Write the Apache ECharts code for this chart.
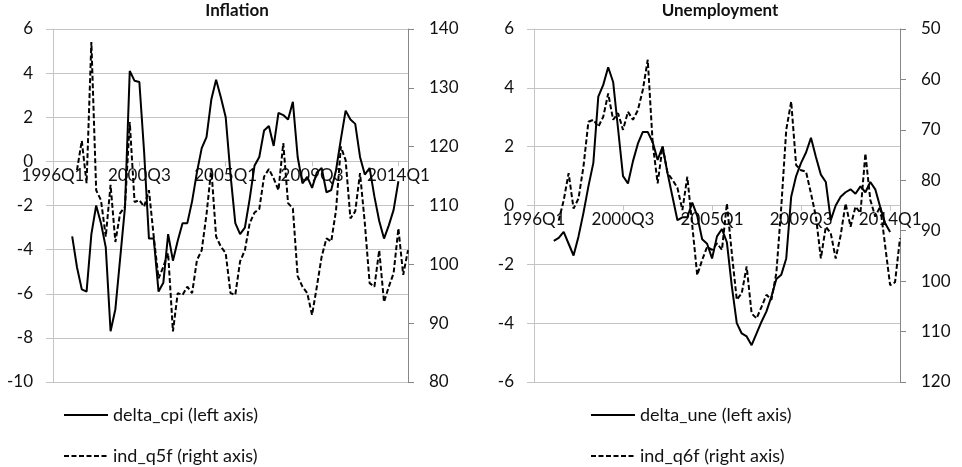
<!DOCTYPE html>
<html>
<head>
<meta charset="utf-8">
<script src="https://cdn.jsdelivr.net/npm/echarts@6/dist/echarts.min.js"></script>
<style>
  html, body { margin: 0; padding: 0; background: #fff; }
  #main { width: 962px; height: 467px; }
</style>
</head>
<body>
<div id="main"></div>
<script>
// 季度标签 1996Q1 - 2014Q3
var quarters = [];
for (var y = 1996; y <= 2014; y++) {
    for (var q = 1; q <= 4; q++) {
        if (y == 2014 && q > 3) break;
        quarters.push(y + "Q" + q);
    }
}

var deltaCpi = [null, null, null, null,
    -3.4, -4.8, -5.8, -5.9, -3.3, -2.0, -2.8, -3.9, -7.7, -6.7, -4.4, -2.1,
    4.1, 3.65, 3.6, 0.4, -3.5, -3.5, -5.9, -5.5, -3.3, -4.5, -3.6, -2.8,
    -2.8, -1.8, -0.5, 0.6, 1.1, 2.8, 3.7, 2.9, 2.0, -0.6, -2.8, -3.3,
    -3.0, -1.7, -0.2, 0.2, 1.4, 1.6, 0.7, 2.2, 2.1, 1.9, 2.7, 0.2,
    -1.0, -0.7, -1.2, -0.5, -0.3, -1.4, -1.3, -0.4, 1.0, 2.3, 1.9, 1.7,
    0.2, -0.6, -0.3, -1.6, -2.7, -3.5, -2.9, -2.2, -0.9, null, null];

var indQ5f = [null, null, null, null, null,
    116.0, 121.0, 113.8, 137.8, 112.6, 110.9, 104.7, 113.5, 103.8, 108.7, 109.8,
    124.2, 110.6, 110.9, 109.8, 112.6, 104.7, 97.6, 99.6, 101.9, 88.6, 95.1,
    94.8, 96.2, 95.1, 100.7, 102.4, 108.5, 116.3, 104.7, 103.0, 101.9, 95.1,
    94.8, 100.5, 102.4, 107.0, 108.8, 109.4, 114.9, 116.2, 114.6, 112.6, 120.6,
    110.4, 109.5, 98.0, 96.2, 95.1, 91.4, 96.2, 101.3, 104.4, 103.9, 109.2,
    120.0, 117.7, 107.8, 109.0, 115.5, 107.0, 96.8, 96.2, 102.4, 93.6, 96.2,
    98.5, 106.1, 98.2, 102.4];

var deltaUne = [null, null, null, null,
    -1.2, -1.1, -0.9, -1.3, -1.7, -1.05, -0.25, 0.65, 1.45, 3.7, 4.1, 4.7,
    4.2, 2.6, 1.0, 0.75, 1.5, 2.1, 2.5, 2.5, 2.15, 1.55, 2.0, 1.1,
    0.3, -0.5, -0.4, -0.4, 0.1, -0.35, -1.15, -1.3, -1.8, -1.05, -0.8, -1.25,
    -2.75, -4.0, -4.35, -4.45, -4.75, -4.35, -3.95, -3.6, -3.1, -2.5, -2.35, -1.8,
    0.3, 1.0, 1.45, 1.8, 2.3, 1.65, 1.05, 0.8, -0.5, 0.0, 0.3, 0.45,
    0.55, 0.4, 0.65, 0.45, 0.8, 0.55, -0.05, -0.6, -0.9, null, null];

var indQ6f = [null, null, null, null, null,
    88.0, 84.0, 78.6, 85.6, 83.6, 77.3, 68.4, 68.0, 69.4, 67.4, 62.8,
    68.0, 66.7, 70.0, 66.4, 68.0, 66.1, 62.1, 56.1, 72.7, 80.6, 73.3,
    78.6, 79.9, 81.5, 85.9, 79.3, 89.0, 98.8, 95.8, 93.2, 93.8, 92.5,
    93.8, 84.6, 94.5, 103.7, 102.4, 97.1, 106.4, 107.4, 105.1, 102.7, 103.7,
    98.4, 85.2, 70.0, 64.4, 77.0, 78.0, 78.3, 82.6, 87.2, 95.5, 89.2,
    90.5, 95.5, 90.9, 84.6, 89.2, 85.2, 86.5, 74.7, 83.9, 87.2, 85.2,
    93.0, 100.8, 100.2, 91.5];

var leftRange = [-10, 6];
var rightRange = [-6, 6];

var fontName = 'Lato';
var gridGray = '#c4c4c4';
var axisGray = '#878787';
var txt = '#111';

var plotTop = 29, plotHeight = 353;

// 横轴放在 0 的位置 (onZero 在双 y 轴时不生效, 用 offset)
function zeroOffset(range) {
    var zeroY = plotHeight * range[1] / (range[1] - range[0]);
    return -(plotHeight - zeroY);
}

function catAxis(gridIndex, range) {
    return {
        type: 'category',
        gridIndex: gridIndex,
        data: quarters,
        boundaryGap: false,
        offset: zeroOffset(range),
        axisLine: { onZero: false, lineStyle: { color: gridGray, width: 1 } },
        axisTick: { show: true, interval: 17, length: 5, lineStyle: { color: gridGray } },
        axisLabel: { interval: 17, margin: 6, color: txt, fontFamily: fontName, fontSize: 17 },
        splitLine: { show: false }
    };
}

function leftAxis(gridIndex, range) {
    return {
        type: 'value',
        gridIndex: gridIndex,
        position: 'left',
        min: range[0], max: range[1], interval: 2,
        axisLine: { show: true, onZero: false, lineStyle: { color: gridGray } },
        axisTick: { show: true, length: 7, lineStyle: { color: gridGray } },
        axisLabel: { margin: 20, color: txt, fontFamily: fontName, fontSize: 17 },
        splitLine: { show: true, lineStyle: { color: gridGray, width: 1 } }
    };
}

function rightAxis(gridIndex, min, max, inverse) {
    return {
        type: 'value',
        gridIndex: gridIndex,
        position: 'right',
        inverse: inverse,
        min: min, max: max, interval: 10,
        axisLine: { show: true, onZero: false, lineStyle: { color: axisGray } },
        axisTick: { show: true, length: 6, lineStyle: { color: axisGray } },
        axisLabel: { margin: 21, color: txt, fontFamily: fontName, fontSize: 17 },
        splitLine: { show: false }
    };
}

function legendItem(left, top, name) {
    return {
        left: left,
        top: top,
        padding: 0,
        itemWidth: 44,
        itemHeight: 14,
        data: [name],
        itemStyle: { opacity: 0, borderWidth: 0 },
        textStyle: { color: txt, fontFamily: fontName, fontSize: 18 }
    };
}

var solid = { color: '#000', width: 2, type: 'solid' };
var dashed = { color: '#000', width: 2, type: [5, 2.5] };

var option = {
    animation: false,
    backgroundColor: '#fff',
    title: [
        { text: 'Inflation', left: 237, top: 2, padding: 0, textAlign: 'center',
          textStyle: { fontFamily: fontName, fontWeight: 'bold', fontSize: 17, color: txt } },
        { text: 'Unemployment', left: 720, top: 2, padding: 0, textAlign: 'center',
          textStyle: { fontFamily: fontName, fontWeight: 'bold', fontSize: 17, color: txt } }
    ],
    legend: [
        legendItem(63, 406, 'delta_cpi (left axis)'),
        legendItem(63, 447, 'ind_q5f (right axis)'),
        legendItem(590, 406, 'delta_une (left axis)'),
        legendItem(590, 447, 'ind_q6f (right axis)')
    ],
    grid: [
        { left: 53, top: plotTop, width: 355, height: plotHeight },
        { left: 534, top: plotTop, width: 366, height: plotHeight }
    ],
    xAxis: [catAxis(0, leftRange), catAxis(1, rightRange)],
    yAxis: [
        leftAxis(0, leftRange),
        rightAxis(0, 80, 140, false),
        leftAxis(1, rightRange),
        rightAxis(1, 50, 120, true)
    ],
    series: [
        { name: 'delta_cpi (left axis)', type: 'line', xAxisIndex: 0, yAxisIndex: 0,
          data: deltaCpi, symbol: 'none', lineStyle: solid, itemStyle: { color: '#000' } },
        { name: 'ind_q5f (right axis)', type: 'line', xAxisIndex: 0, yAxisIndex: 1,
          data: indQ5f, symbol: 'none', lineStyle: dashed, itemStyle: { color: '#000' } },
        { name: 'delta_une (left axis)', type: 'line', xAxisIndex: 1, yAxisIndex: 2,
          data: deltaUne, symbol: 'none', lineStyle: solid, itemStyle: { color: '#000' } },
        { name: 'ind_q6f (right axis)', type: 'line', xAxisIndex: 1, yAxisIndex: 3,
          data: indQ6f, symbol: 'none', lineStyle: dashed, itemStyle: { color: '#000' } }
    ]
};

var chart = echarts.init(document.getElementById('main'));
chart.setOption(option);
</script>
</body>
</html>
